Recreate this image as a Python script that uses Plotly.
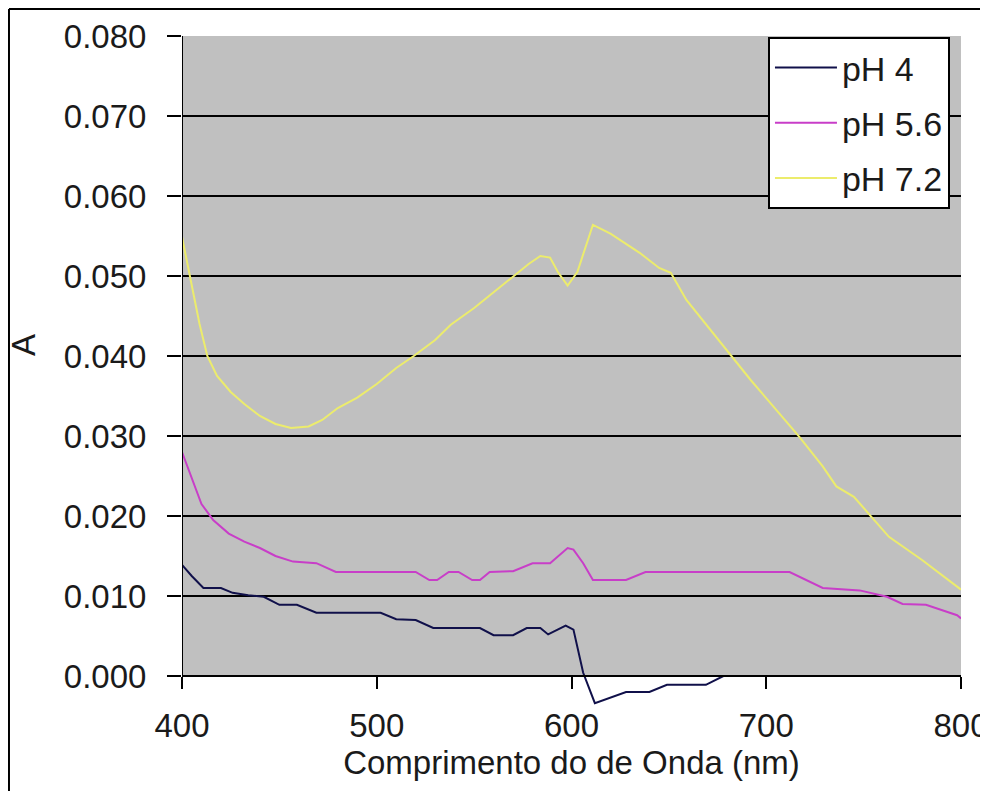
import plotly.graph_objects as go

# ---------------- data ----------------
ph4_x = [400, 405, 411, 420, 426, 434, 442, 450, 459, 469, 502, 510, 520, 529, 553,
         560, 570, 577, 584, 588, 597, 601, 606, 612, 628, 640, 649, 669, 678, 800]
ph4_y = [0.0139, 0.0125, 0.0110, 0.0110, 0.0104, 0.0101, 0.0099, 0.0089, 0.0089, 0.0079,
         0.0079, 0.0071, 0.0070, 0.0060, 0.0060, 0.0051, 0.0051, 0.0060, 0.0060, 0.0052,
         0.0063, 0.0058, 0.0004, -0.0034, -0.0020, -0.0020, -0.0011, -0.0011, 0.0000, 0.0000]

ph56_x = [400, 404, 410, 416, 424, 432, 440, 448, 457, 469, 479, 520, 527, 531, 537,
          542, 549, 553, 558, 570, 580, 589, 598, 601, 606, 611, 628, 638, 712, 729,
          748, 762, 770, 782, 798, 800]
ph56_y = [0.0280, 0.0255, 0.0215, 0.0195, 0.0178, 0.0168, 0.0160, 0.0150, 0.0143, 0.0141,
          0.0130, 0.0130, 0.0120, 0.0120, 0.0130, 0.0130, 0.0120, 0.0120, 0.0130, 0.0131,
          0.0141, 0.0141, 0.0160, 0.0158, 0.0141, 0.0120, 0.0120, 0.0130, 0.0130, 0.0110,
          0.0107, 0.0099, 0.0090, 0.0089, 0.0076, 0.0072]

ph72_x = [400, 404, 409, 413, 418, 425, 432, 440, 448, 456, 465, 472, 480, 490, 500,
          510, 519, 530, 538, 550, 560, 570, 578, 584, 589, 593, 598, 603, 611, 620,
          635, 645, 651, 659, 666, 684, 692, 717, 729, 736, 745, 754, 763, 780, 800]
ph72_y = [0.0549, 0.0500, 0.0440, 0.0400, 0.0375, 0.0355, 0.0340, 0.0325, 0.0315, 0.0310,
          0.0312, 0.0320, 0.0335, 0.0348, 0.0365, 0.0385, 0.0400, 0.0420, 0.0439, 0.0460,
          0.0480, 0.0500, 0.0515, 0.0525, 0.0523, 0.0505, 0.0488, 0.0505, 0.0564, 0.0553,
          0.0529, 0.0510, 0.0504, 0.0470, 0.0449, 0.0395, 0.0370, 0.0299, 0.0262, 0.0237,
          0.0224, 0.0199, 0.0174, 0.0145, 0.0108]

series_names = ["pH 4", "pH 5.6", "pH 7.2"]
series_colors = ["#10104a", "#c83ec8", "#ecec6c"]

x_ticks = [400, 500, 600, 700, 800]
y_ticks = [0.000, 0.010, 0.020, 0.030, 0.040, 0.050, 0.060, 0.070, 0.080]
y_grid = [0.010, 0.020, 0.030, 0.040, 0.050, 0.060, 0.070]

x_title = "Comprimento do de Onda (nm)"
y_title = "A"

# ---------------- figure ----------------
FONT = "Liberation Sans, Arial, sans-serif"
Y_MIN, Y_MAX = -0.0045, 0.080
X_MIN, X_MAX = 400, 800

fig = go.Figure()
for name, xs, ys, col in zip(series_names,
                             [ph4_x, ph56_x, ph72_x],
                             [ph4_y, ph56_y, ph72_y],
                             series_colors):
    fig.add_trace(go.Scatter(x=xs, y=ys, mode="lines", name=name,
                             legendgroup=name,
                             line=dict(color=col, width=2)))

# grey plot area (only above zero) and left axis line
fig.add_shape(type="rect", xref="x", yref="y", x0=X_MIN, x1=X_MAX, y0=0, y1=Y_MAX,
              fillcolor="#c0c0c0", line=dict(width=0), layer="below")
fig.add_shape(type="line", xref="x", yref="y", x0=X_MIN, x1=X_MIN, y0=0, y1=Y_MAX,
              line=dict(color="black", width=2), layer="above")
# outer picture frame (left and top)
fig.add_shape(type="line", xref="paper", yref="paper", x0=-0.2221, x1=-0.2221,
              y0=-0.2, y1=1.040, line=dict(color="black", width=2))
fig.add_shape(type="line", xref="paper", yref="paper", x0=-0.2221, x1=1.1,
              y0=1.040, y1=1.040, line=dict(color="black", width=2))

# y-axis title placed like the original (slightly above plot centre)
fig.add_annotation(text=y_title, xref="paper", yref="paper", x=-0.2028, y=0.543,
                   xanchor="center", yanchor="middle", textangle=-90,
                   showarrow=False, font=dict(size=33, family=FONT, color="#1a1a1a"))

fig.update_layout(
    width=980, height=783,
    margin=dict(l=174, r=27, t=28, b=79, autoexpand=False),
    paper_bgcolor="white", plot_bgcolor="white",
    font=dict(family=FONT, size=33, color="#1a1a1a"),
    showlegend=True,
    legend=dict(x=0.7522, y=0.9985, xanchor="left", yanchor="top",
                bgcolor="white", bordercolor="black", borderwidth=2,
                font=dict(size=34), traceorder="grouped", tracegroupgap=8,
                itemwidth=62),
    xaxis=dict(range=[X_MIN, X_MAX], tickvals=x_ticks, showgrid=False, zeroline=False,
               anchor="free", position=(0 - Y_MIN) / (Y_MAX - Y_MIN),
               showline=True, linecolor="black", linewidth=2,
               ticks="outside", ticklen=12, tickwidth=2, tickcolor="black",
               ticklabelstandoff=8, ticklabeloverflow="allow", automargin=False,
               title=dict(text=x_title, standoff=6, font=dict(size=33))),
    yaxis=dict(range=[Y_MIN, Y_MAX], tickvals=y_ticks, tickformat=".3f",
               showgrid=False, zeroline=False, showline=False, automargin=False,
               ticks="outside", ticklen=14, tickwidth=2, tickcolor="black",
               ticklabelstandoff=14),
    yaxis2=dict(range=[Y_MIN, Y_MAX], overlaying="y", side="left", tickvals=y_grid,
                showgrid=True, gridcolor="black", gridwidth=2, showticklabels=False,
                ticks="", zeroline=False, showline=False),
)
# invisible helper trace so yaxis2 gets drawn (values reuse the pH 4 series)
fig.add_trace(go.Scatter(x=ph4_x[:1], y=ph4_y[:1], yaxis="y2", mode="lines",
                         showlegend=False, hoverinfo="skip",
                         line=dict(width=0, color="rgba(0,0,0,0)")))

fig.write_html("out.html")
